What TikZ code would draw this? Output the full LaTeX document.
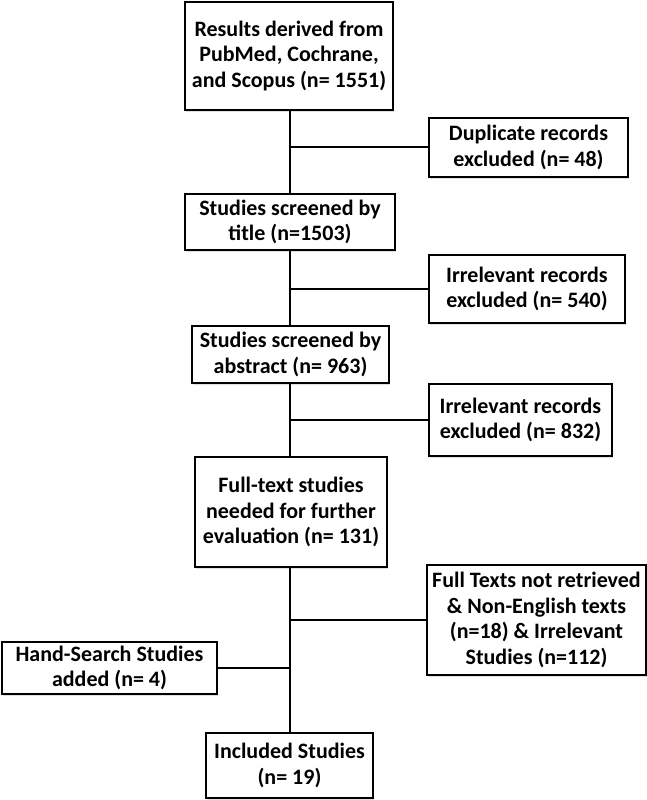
\documentclass[tikz,border=0pt]{standalone}
\usepackage{fontspec}
\setmainfont{Carlito}
\usetikzlibrary{positioning,shadows,calc}

\begin{document}
\begin{tikzpicture}[x=1pt,y=-1pt,line width=1.6pt]
\tikzstyle{bx} = [draw,fill=white,shape=rectangle,align=center,inner sep=2pt,
  font=\fontsize{22}{25.5}\selectfont\bfseries,
  drop shadow={shadow xshift=1.2pt,shadow yshift=-1.5pt,opacity=0.25}]
\useasboundingbox (0,0) rectangle (647,800);
\node[bx,minimum width=208pt,minimum height=108pt] (res) at (289,56)
  {Results derived from\\PubMed, Cochrane,\\and Scopus (n= 1551)};
\node[bx,minimum width=199pt,minimum height=59pt] (dup) at (528.5,147.5)
  {Duplicate records\\excluded (n= 48)};
\node[bx,minimum width=210pt,minimum height=56pt] (title) at (290,222)
  {Studies screened by\\title (n=1503)};
\node[bx,minimum width=196pt,minimum height=68pt] (irr1) at (527,289)
  {Irrelevant records\\excluded (n= 540)};
\node[bx,minimum width=197pt,minimum height=57pt] (abs) at (290.5,354.5)
  {Studies screened by\\abstract (n= 963)};
\node[bx,minimum width=183pt,minimum height=72pt] (irr2) at (520.5,420)
  {Irrelevant records\\excluded (n= 832)};
\node[bx,minimum width=192pt,minimum height=110pt] (full) at (291,512)
  {Full-text studies\\needed for further\\evaluation (n= 131)};
\node[bx,minimum width=219pt,minimum height=110pt] (notret) at (536.5,620)
  {Full Texts not retrieved\\\& Non-English texts\\(n=18) \& Irrelevant\\Studies (n=112)};
\node[bx,minimum width=215pt,minimum height=52pt] (hand) at (109.5,668)
  {Hand-Search Studies\\added (n= 4)};
\node[bx,minimum width=167pt,minimum height=65pt] (incl) at (289.5,765.5)
  {Included Studies\\(n= 19)};
% junctions on the main line
\coordinate (j1) at (290,147);
\coordinate (j2) at (290,289);
\coordinate (j3) at (290,420);
\coordinate (j4) at (290,620);
\coordinate (j5) at (290,668);
\draw (res.south -| j1) -- (title.north -| j1);
\draw (title.south -| j1) -- (abs.north -| j1);
\draw (abs.south -| j1) -- (full.north -| j1);
\draw (full.south -| j1) -- (incl.north -| j1);
\draw (j1) -- (dup.west |- j1);
\draw (j2) -- (irr1.west |- j2);
\draw (j3) -- (irr2.west |- j3);
\draw (j4) -- (notret.west |- j4);
\draw (j5) -- (hand.east |- j5);
\end{tikzpicture}
\end{document}
